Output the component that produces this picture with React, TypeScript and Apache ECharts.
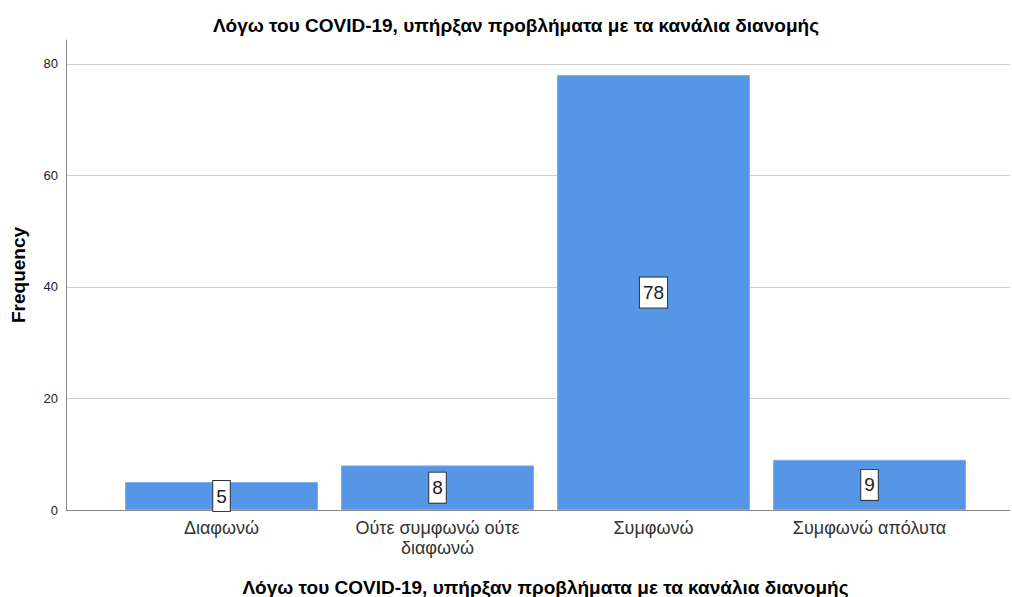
import React, { useEffect, useRef } from "react";
import * as echarts from "echarts";

const titleText = "Λόγω του COVID-19, υπήρξαν προβλήματα με τα κανάλια διανομής";
const categories = ["Διαφωνώ", "Ούτε συμφωνώ ούτε\nδιαφωνώ", "Συμφωνώ", "Συμφωνώ απόλυτα"];
const frequencies = [5, 8, 78, 9];
const yTicks = { min: 0, max: 84.3, interval: 20 };

const FONT = "'Liberation Sans', Arial, sans-serif";

export default function App() {
  const ref = useRef<HTMLDivElement>(null);
  useEffect(() => {
    if (!ref.current) return;
    const chart = echarts.init(ref.current, undefined, { renderer: "svg" });
    chart.setOption({
      animation: false,
      backgroundColor: "#ffffff",
      textStyle: { fontFamily: FONT },
      title: {
        text: titleText,
        left: 511,
        textAlign: "center",
        top: 11,
        textStyle: { fontFamily: FONT, fontSize: 19, fontWeight: "bold", color: "#000" },
      },
      grid: [
        { left: 66, right: 2, top: 40, bottom: 87, containLabel: false, outerBoundsMode: "none" },
        { left: 113.5, right: 34.5, top: 40, bottom: 87, containLabel: false, outerBoundsMode: "none" },
      ],
      xAxis: [
        {
          type: "value",
          gridIndex: 0,
          min: 0,
          max: 1,
          axisLine: { show: true, lineStyle: { color: "#8a8a8a", width: 1 } },
          axisTick: { show: false },
          axisLabel: { show: false },
          splitLine: { show: false },
        },
        {
          type: "category",
          gridIndex: 1,
          data: categories,
          axisLine: { show: false },
          axisTick: { show: false },
          axisLabel: {
            interval: 0,
            margin: 8,
            fontFamily: FONT,
            fontSize: 18,
            color: "#333",
            lineHeight: 20,
          },
          name: titleText,
          nameLocation: "middle",
          nameGap: 68,
          nameTextStyle: { fontFamily: FONT, fontSize: 19, fontWeight: "bold", color: "#000" },
        },
      ],
      yAxis: [
        {
          type: "value",
          gridIndex: 0,
          min: yTicks.min,
          max: yTicks.max,
          interval: yTicks.interval,
          axisLine: { show: true, lineStyle: { color: "#8a8a8a", width: 1 } },
          axisTick: { show: false },
          axisLabel: { showMaxLabel: false, fontFamily: FONT, fontSize: 13, color: "#222", margin: 8 },
          splitLine: { show: true, showMaxLine: false, showMinLine: false, lineStyle: { color: "#cfcfcf", width: 1 } },
          name: "Frequency",
          nameLocation: "middle",
          nameGap: 38,
          nameTextStyle: { fontFamily: FONT, fontSize: 19, fontWeight: "bold", color: "#000" },
        },
        {
          type: "value",
          gridIndex: 1,
          min: yTicks.min,
          max: yTicks.max,
          interval: yTicks.interval,
          show: false,
          splitLine: { show: false },
        },
      ],
      series: [
        {
          type: "bar",
          xAxisIndex: 1,
          yAxisIndex: 1,
          data: frequencies,
          barWidth: 193,
          itemStyle: { color: "#5596e6", borderColor: "#7aaeee", borderWidth: 1 },
          label: {
            show: true,
            position: "inside",
            fontFamily: FONT,
            fontSize: 19,
            lineHeight: 22,
            color: "#222",
            backgroundColor: "#ffffff",
            borderColor: "#333",
            borderWidth: 1,
            padding: [4, 3, 4, 3],
          },
        },
      ],
    });
    return () => chart.dispose();
  }, []);
  return <div ref={ref} style={{ width: 1012, height: 597, position: "absolute", left: 0, top: 0 }} />;
}
